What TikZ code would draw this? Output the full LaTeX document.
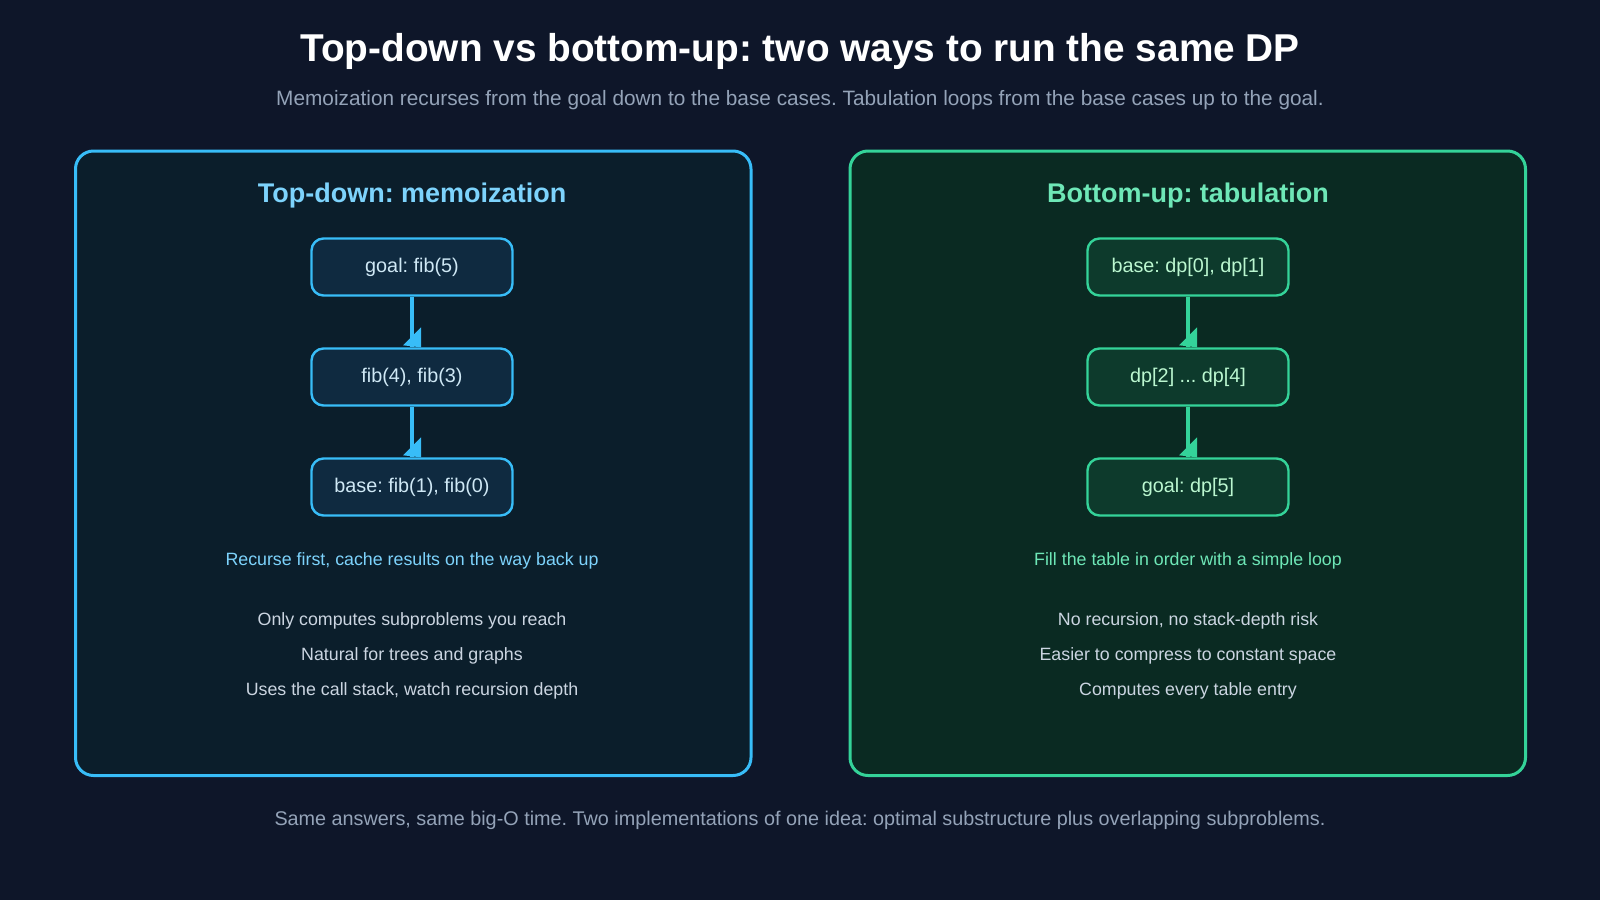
\documentclass[tikz,border=0pt]{standalone}
\usepackage{fontspec}
\setmainfont{Liberation Sans}
\frenchspacing
\usetikzlibrary{calc}
\definecolor{bg}{HTML}{0E1629}
\definecolor{lfill}{HTML}{0B1E2B}
\definecolor{lstroke}{HTML}{38BDF8}
\definecolor{lnode}{HTML}{0F2A40}
\definecolor{ltext}{HTML}{CFE8F5}
\definecolor{ltitle}{HTML}{7DD3FC}
\definecolor{rfill}{HTML}{0A2A22}
\definecolor{rstroke}{HTML}{34D399}
\definecolor{rnode}{HTML}{0D3A2C}
\definecolor{rtext}{HTML}{BBF7D0}
\definecolor{rtitle}{HTML}{6EE7B7}
\definecolor{bul}{HTML}{CBD5E1}
\definecolor{sub}{HTML}{94A3B8}
\begin{document}
\begin{tikzpicture}[x=0.5pt,y=-0.5pt,
  panel/.style={line width=1.5pt,rounded corners=9pt},
  box/.style={draw,line width=1.2pt,rounded corners=6pt,minimum width=100.5pt,minimum height=28.5pt,font=\fontsize{9.9}{11}\selectfont},
  lbox/.style={box,draw=lstroke,fill=lnode,text=ltext},
  rbox/.style={box,draw=rstroke,fill=rnode,text=rtext},
  bt/.style={text=bul,font=\fontsize{8.9}{10}\selectfont},
  conn/.style={line width=1.6pt}]
\fill[bg] (0,0) rectangle (1600,900);
\useasboundingbox (0,0) rectangle (1600,900);
\node[text=white,font=\bfseries\fontsize{19.4}{22}\selectfont] (t) at (800,51) {Top-down vs bottom-up: two ways to run the same DP};
\node[text=sub,font=\fontsize{10.4}{12}\selectfont] (s) at (800,100) {Memoization recurses from the goal down to the base cases. Tabulation loops from the base cases up to the goal.};
\draw[panel,draw=lstroke,fill=lfill] (75.5,151) rectangle (751,775.5);
\draw[panel,draw=rstroke,fill=rfill] (850,151) rectangle (1525.5,775.5);
\node[text=ltitle,font=\bfseries\fontsize{13.5}{15}\selectfont] (lt) at (412,196) {Top-down: memoization};
\node[text=rtitle,font=\bfseries\fontsize{13.5}{15}\selectfont] (rt) at (1188,196) {Bottom-up: tabulation};
\node[lbox] (l1) at (412,267) {goal: fib(5)};
\node[lbox] (l2) at (412,377) {fib(4), fib(3)};
\node[lbox] (l3) at (412,487) {base: fib(1), fib(0)};
\node[rbox] (r1) at (1188,267) {base: dp[0], dp[1]};
\node[rbox] (r2) at (1188,377) {dp[2] ... dp[4]};
\node[rbox] (r3) at (1188,487) {goal: dp[5]};
\foreach \a/\b/\c in {l1/l2/lstroke,l2/l3/lstroke,r1/r2/rstroke,r2/r3/rstroke}{
  \draw[conn,draw=\c] (\a.south) -- (\b.north);
  \fill[\c] ($(\b.north)+(9,-20)$) -- ($(\b.north)+(9,0)$) -- ($(\b.north)+(-9,-2)$) -- cycle;
}
\node[text=ltitle,font=\fontsize{8.9}{10}\selectfont] (lc) at (412,561) {Recurse first, cache results on the way back up};
\node[text=rtitle,font=\fontsize{8.9}{10}\selectfont] (rc) at (1188,561) {Fill the table in order with a simple loop};
\node[bt] (lb1) at (412,621) {Only computes subproblems you reach};
\node[bt] (lb2) at (412,656) {Natural for trees and graphs};
\node[bt] (lb3) at (412,691) {Uses the call stack, watch recursion depth};
\node[bt] (rb1) at (1188,621) {No recursion, no stack-depth risk};
\node[bt] (rb2) at (1188,656) {Easier to compress to constant space};
\node[bt] (rb3) at (1188,691) {Computes every table entry};
\node[text=sub,font=\fontsize{9.9}{11}\selectfont] (f) at (800,820) {Same answers, same big-O time. Two implementations of one idea: optimal substructure plus overlapping subproblems.};
\end{tikzpicture}
\end{document}
